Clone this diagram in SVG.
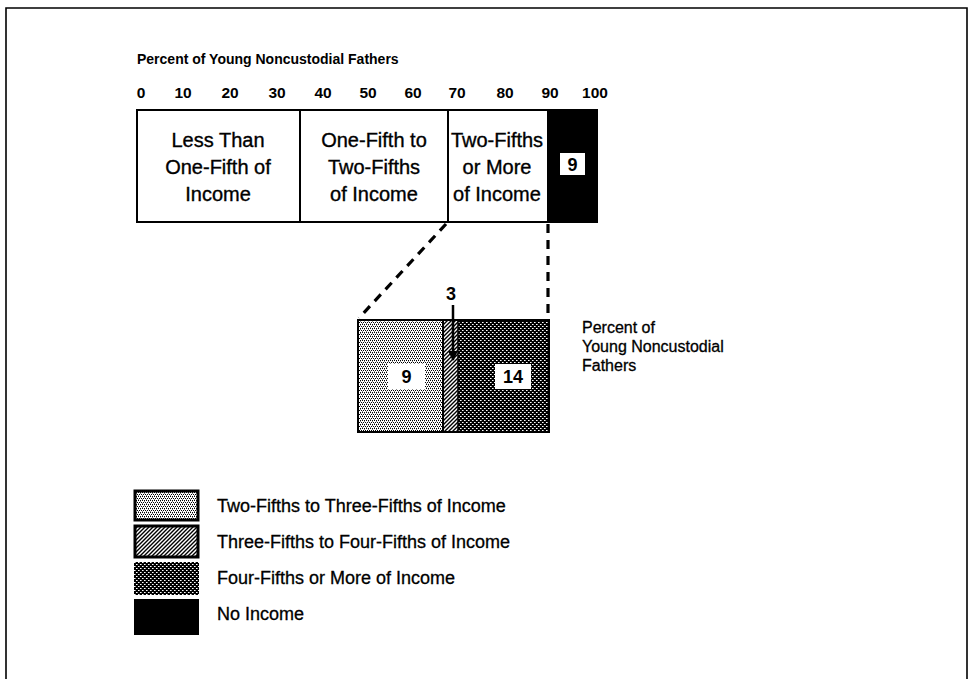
<svg xmlns="http://www.w3.org/2000/svg" width="970" height="679" viewBox="0 0 970 679">
<defs>
<style>
text{font-family:"Liberation Sans",Arial,sans-serif;fill:#000}
.title{font-size:14px;font-weight:bold}
.axis{font-size:15.5px;font-weight:bold;text-anchor:middle}
.seg{font-size:20px;text-anchor:middle;stroke:#000;stroke-width:0.35}
.num{font-size:18px;font-weight:bold;text-anchor:middle}
.side{font-size:16px;stroke:#000;stroke-width:0.3}
.leg{font-size:18px;stroke:#000;stroke-width:0.3}
.box{fill:#fff;stroke:none}
.dash{fill:none;stroke:#000;stroke-width:3.2;stroke-dasharray:9 7}
.outline{fill:none;stroke:#000;stroke-width:2}
</style>
<pattern id="pLight" width="4" height="4" patternUnits="userSpaceOnUse">
<rect width="4" height="4" fill="#fff"/>
<rect x="0" y="0" width="1" height="1" fill="#000"/>
<rect x="2" y="0" width="1" height="1" fill="#000"/>
<rect x="1" y="2" width="1" height="1" fill="#000"/>
<rect x="3" y="2" width="1" height="1" fill="#000"/>
<rect x="0" y="1" width="1" height="1" fill="#888"/>
<rect x="2" y="3" width="1" height="1" fill="#888"/>
</pattern>
<pattern id="pMed" width="4" height="4" patternUnits="userSpaceOnUse">
<rect width="4" height="4" fill="#fff"/>
<path d="M0 4 L4 0 M-1 1 L1 -1 M3 5 L5 3" stroke="#000" stroke-width="1.4"/>
</pattern>
<pattern id="pDark" width="4" height="4" patternUnits="userSpaceOnUse">
<rect width="4" height="4" fill="#000"/>
<rect x="0" y="0" width="1" height="1" fill="#fff"/>
<rect x="1" y="0" width="1" height="1" fill="#999"/>
<rect x="2" y="2" width="1" height="1" fill="#fff"/>
<rect x="3" y="2" width="1" height="1" fill="#999"/>
</pattern>
<marker id="arr" viewBox="0 0 10 10" refX="9" refY="5" markerWidth="4" markerHeight="4" orient="auto">
<path d="M0 0 L10 5 L0 10 Z" fill="#000"/>
</marker>
</defs>
<rect width="970" height="679" fill="#fff"/>
<path d="M6 679 V8 H967 V679" fill="none" stroke="#000" stroke-width="1.6"/>

<g id="title">
<text class="title" x="137" y="64">Percent of Young Noncustodial Fathers</text>
</g>
<g id="axis">
<text class="axis" x="141" y="98">0</text>
<text class="axis" x="183" y="98">10</text>
<text class="axis" x="230" y="98">20</text>
<text class="axis" x="277" y="98">30</text>
<text class="axis" x="323" y="98">40</text>
<text class="axis" x="368" y="98">50</text>
<text class="axis" x="413" y="98">60</text>
<text class="axis" x="457" y="98">70</text>
<text class="axis" x="505" y="98">80</text>
<text class="axis" x="550" y="98">90</text>
<text class="axis" x="595" y="98">100</text>
</g>

<g id="seg-less-than-one-fifth">
<rect x="137" y="110" width="163" height="112" fill="#fff" stroke="#000" stroke-width="2"/>
<text class="seg" x="218" y="147">Less Than</text>
<text class="seg" x="218" y="174">One-Fifth of</text>
<text class="seg" x="218" y="201">Income</text>
</g>
<g id="seg-one-to-two-fifths">
<rect x="300" y="110" width="148" height="112" fill="#fff" stroke="#000" stroke-width="2"/>
<text class="seg" x="374" y="147">One-Fifth to</text>
<text class="seg" x="374" y="174">Two-Fifths</text>
<text class="seg" x="374" y="201">of Income</text>
</g>
<g id="seg-two-fifths-or-more">
<rect x="448" y="110" width="100" height="112" fill="#fff" stroke="#000" stroke-width="2"/>
<text class="seg" x="497" y="147">Two-Fifths</text>
<text class="seg" x="497" y="174">or More</text>
<text class="seg" x="497" y="201">of Income</text>
</g>
<g id="seg-no-income">
<rect x="548" y="110" width="49" height="112" fill="#000" stroke="#000" stroke-width="2"/>
<rect class="box" x="560" y="153" width="25" height="22"/>
<text class="num" x="572.5" y="170.5">9</text>
</g>

<g id="exp-two-to-three-fifths">
<rect x="358" y="320" width="85" height="112" fill="url(#pLight)"/>
<rect class="box" x="388" y="364" width="37" height="25"/>
<text class="num" x="406.5" y="383">9</text>
</g>
<g id="exp-three-to-four-fifths">
<rect x="443" y="320" width="15" height="112" fill="url(#pMed)"/>
<text class="num" x="451" y="300">3</text>
</g>
<g id="exp-four-fifths-or-more">
<rect x="458" y="320" width="91" height="112" fill="url(#pDark)"/>
<rect class="box" x="495" y="364" width="36" height="25"/>
<text class="num" x="513" y="383">14</text>
</g>
<g id="exp-outline">
<rect class="outline" x="358" y="320" width="191" height="112"/>
<line x1="443" y1="320" x2="443" y2="432" stroke="#000" stroke-width="2"/>
<line x1="458" y1="320" x2="458" y2="432" stroke="#000" stroke-width="1.5"/>
</g>
<g id="exp-label">
<text class="side" x="582" y="333">Percent of</text>
<text class="side" x="582" y="352">Young Noncustodial</text>
<text class="side" x="582" y="371">Fathers</text>
</g>

<g id="connectors">
<line class="dash" x1="446" y1="224" x2="359" y2="318"/>
<line class="dash" x1="548" y1="224" x2="548" y2="318"/>
<line x1="453" y1="305" x2="453" y2="360" stroke="#000" stroke-width="2.5" marker-end="url(#arr)"/>
</g>

<g id="legend">
<g id="leg1">
<rect x="135" y="491" width="63" height="29" fill="url(#pLight)" stroke="#000" stroke-width="3"/>
<text class="leg" x="217" y="512">Two-Fifths to Three-Fifths of Income</text>
</g>
<g id="leg2">
<rect x="135" y="526" width="63" height="31" fill="url(#pMed)" stroke="#000" stroke-width="3"/>
<text class="leg" x="217" y="548">Three-Fifths to Four-Fifths of Income</text>
</g>
<g id="leg3">
<rect x="134" y="562" width="65" height="33" fill="url(#pDark)"/>
<text class="leg" x="217" y="584">Four-Fifths or More of Income</text>
</g>
<g id="leg4">
<rect x="134" y="599" width="65" height="36" fill="#000"/>
<text class="leg" x="217" y="620">No Income</text>
</g>
</g>
</svg>
